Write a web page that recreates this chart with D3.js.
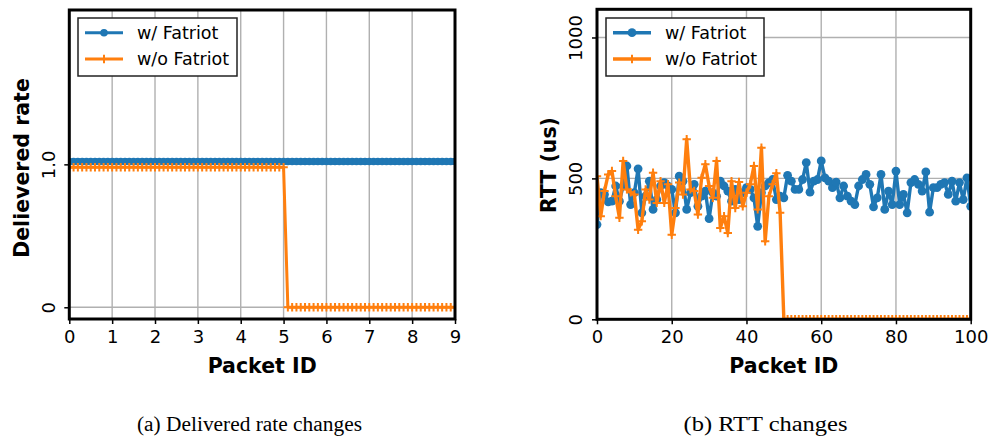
<!DOCTYPE html>
<html>
<head>
<meta charset="utf-8">
<script src="https://cdn.jsdelivr.net/npm/d3@7/dist/d3.min.js"></script>
<style>
  html, body { margin: 0; padding: 0; background: #fff; }
  svg { display: block; font-family: "DejaVu Sans", sans-serif; }
</style>
</head>
<body>
<svg id="chart" width="989" height="439"></svg>
<script>
// ---------- DATA ----------
const seriesNames = ["w/ Fatriot", "w/o Fatriot"];

// (a) Delivered rate: packet IDs 0.0 .. 9.0 step 0.1
const rateIds = d3.range(91).map(i => +(i / 10).toFixed(1));
const rateWith = [
  1.02,1.02,1.02,1.02,1.02,1.02,1.02,1.02,1.02,1.02,
  1.02,1.02,1.02,1.02,1.02,1.02,1.02,1.02,1.02,1.02,
  1.02,1.02,1.02,1.02,1.02,1.02,1.02,1.02,1.02,1.02,
  1.02,1.02,1.02,1.02,1.02,1.02,1.02,1.02,1.02,1.02,
  1.02,1.02,1.02,1.02,1.02,1.02,1.02,1.02,1.02,1.02,
  1.02,1.02,1.02,1.02,1.02,1.02,1.02,1.02,1.02,1.02,
  1.02,1.02,1.02,1.02,1.02,1.02,1.02,1.02,1.02,1.02,
  1.02,1.02,1.02,1.02,1.02,1.02,1.02,1.02,1.02,1.02,
  1.02,1.02,1.02,1.02,1.02,1.02,1.02,1.02,1.02,1.02,
  1.02
];
const rateWithout = [
  0.98,0.98,0.98,0.98,0.98,0.98,0.98,0.98,0.98,0.98,
  0.98,0.98,0.98,0.98,0.98,0.98,0.98,0.98,0.98,0.98,
  0.98,0.98,0.98,0.98,0.98,0.98,0.98,0.98,0.98,0.98,
  0.98,0.98,0.98,0.98,0.98,0.98,0.98,0.98,0.98,0.98,
  0.98,0.98,0.98,0.98,0.98,0.98,0.98,0.98,0.98,0.98,
  0.98,0,0,0,0,0,0,0,0,0,
  0,0,0,0,0,0,0,0,0,0,
  0,0,0,0,0,0,0,0,0,0,
  0,0,0,0,0,0,0,0,0,0,
  0
];
const rateXTicks = [0,1,2,3,4,5,6,7,8,9];
const rateYTicks = [0, 1.0];
const rateYTickLabels = ["0", "1.0"];

// (b) RTT: packet IDs 0 .. 100
const rttIds = d3.range(101);
const rttWith = [
  336,449,443,417,419,473,419,473,544,407,
  449,534,378,437,490,390,425,473,485,473,
  461,378,508,490,390,449,479,401,437,455,
  357,449,437,490,473,455,419,461,425,449,
  467,461,431,330,449,473,485,496,425,437,
  431,511,490,461,461,496,556,451,490,496,
  562,502,490,467,487,431,473,437,419,407,
  473,496,514,479,399,431,514,390,455,407,
  526,407,443,378,485,496,479,455,523,380,
  467,467,479,485,443,490,419,485,425,502,
  401
];
const rttWithout = [
  508,366,455,514,526,437,360,562,461,451,
  443,318,348,461,425,520,413,490,413,479,
  300,395,485,443,639,461,455,372,502,550,
  473,431,562,324,366,306,490,395,487,401,
  449,479,544,390,609,277,437,479,518,378,
  0,0,0,0,0,0,0,0,0,0,
  0,0,0,0,0,0,0,0,0,0,
  0,0,0,0,0,0,0,0,0,0,
  0,0,0,0,0,0,0,0,0,0,
  0,0,0,0,0,0,0,0,0,0,
  0
];
const rttXTicks = [0,20,40,60,80,100];
const rttYTicks = [0, 500, 1000];
const rttYTickLabels = ["0", "500", "1000"];

const captions = ["(a) Delivered rate changes", "(b) RTT changes"];

// ---------- DRAW ----------
const BLUE = "#1f77b4", ORANGE = "#ff7f0e";
const svg = d3.select("#chart");
svg.append("rect").attr("width", 989).attr("height", 439).attr("fill", "#fff");

function panel(cfg) {
  const g = svg.append("g");
  const x = d3.scaleLinear().domain(cfg.xDomain).range(cfg.xRange);
  const y = d3.scaleLinear().domain(cfg.yDomain).range(cfg.yRange);
  const [x0, x1] = cfg.xRange, [y0, y1] = cfg.yRange;

  const clipId = "clip" + cfg.id;
  svg.append("clipPath").attr("id", clipId)
    .append("rect").attr("x", x0).attr("y", y1).attr("width", x1 - x0).attr("height", y0 - y1);

  // grid
  const grid = g.append("g").attr("stroke", "#b0b0b0").attr("stroke-width", 1.4);
  grid.selectAll("line.vx").data(cfg.xTicks).join("line")
    .attr("x1", d => x(d)).attr("x2", d => x(d)).attr("y1", y0).attr("y2", y1);
  grid.selectAll("line.hy").data(cfg.yTicks).join("line")
    .attr("y1", d => y(d)).attr("y2", d => y(d)).attr("x1", x0).attr("x2", x1);

  const plot = g.append("g").attr("clip-path", `url(#${clipId})`);
  const line = d3.line().x(d => x(d[0])).y(d => y(d[1]));

  const bData = cfg.ids.map((id, i) => [id, cfg.withVals[i]]);
  plot.append("path").datum(bData).attr("d", line)
    .attr("fill", "none").attr("stroke", BLUE).attr("stroke-width", cfg.lw).attr("stroke-linejoin", "round");
  plot.selectAll("circle.b").data(bData).join("circle")
    .attr("cx", d => x(d[0])).attr("cy", d => y(d[1])).attr("r", cfg.r).attr("fill", BLUE);

  const oData = cfg.ids.map((id, i) => [id, cfg.withoutVals[i]]);
  plot.append("path").datum(oData).attr("d", line)
    .attr("fill", "none").attr("stroke", ORANGE).attr("stroke-width", cfg.lw).attr("stroke-linejoin", "round");
  const pl = 4.2;
  plot.selectAll("path.o").data(oData).join("path")
    .attr("d", d => {
      const cx = x(d[0]), cy = y(d[1]);
      return `M${cx - pl},${cy}H${cx + pl}M${cx},${cy - pl}V${cy + pl}`;
    })
    .attr("stroke", ORANGE).attr("stroke-width", 2).attr("fill", "none");

  // axes
  const xAxis = d3.axisBottom(x).tickValues(cfg.xTicks).tickSize(5).tickPadding(6);
  const gx = g.append("g").attr("transform", `translate(0,${y0})`).call(xAxis);
  gx.select(".domain").remove();
  gx.selectAll(".tick line").attr("stroke", "#000").attr("stroke-width", 1.5);
  gx.selectAll(".tick text").attr("font-size", 18).attr("fill", "#000")
    .attr("font-family", "DejaVu Sans").attr("dy", "0.71em");

  const yAxis = d3.axisLeft(y).tickValues(cfg.yTicks).tickSize(5).tickFormat((d, i) => cfg.yTickLabels[i]);
  const gy = g.append("g").attr("transform", `translate(${x0},0)`).call(yAxis);
  gy.select(".domain").remove();
  gy.selectAll(".tick line").attr("stroke", "#000").attr("stroke-width", 1.5);
  gy.selectAll(".tick text")
    .attr("font-size", 18).attr("fill", "#000").attr("font-family", "DejaVu Sans")
    .attr("x", null).attr("dy", null)
    .attr("text-anchor", "middle").attr("dominant-baseline", "central")
    .attr("transform", `translate(${cfg.yTickX - x0},0) rotate(-90)`);

  // frame
  g.append("rect").attr("x", x0).attr("y", y1).attr("width", x1 - x0).attr("height", y0 - y1)
    .attr("fill", "none").attr("stroke", "#000").attr("stroke-width", 3);

  // axis labels
  g.append("text").attr("x", (x0 + x1) / 2).attr("y", 373)
    .attr("text-anchor", "middle").attr("font-size", 20.5).attr("font-weight", "bold")
    .text("Packet ID");
  g.append("text")
    .attr("transform", `translate(${cfg.yLabelX},${cfg.yLabelY}) rotate(-90)`)
    .attr("text-anchor", "middle").attr("dominant-baseline", "central")
    .attr("font-size", 20.5).attr("font-weight", "bold")
    .text(cfg.yLabel);

  // legend
  const L = cfg.legend;
  g.append("rect").attr("x", L.x).attr("y", L.y).attr("width", L.w).attr("height", L.h)
    .attr("fill", "#fff").attr("stroke", "#222").attr("stroke-width", 1.5);
  const rows = [{ c: BLUE, m: "circle", name: seriesNames[0], yy: L.y + 14.7 },
                { c: ORANGE, m: "plus", name: seriesNames[1], yy: L.y + 41 }];
  rows.forEach(rw => {
    g.append("line").attr("x1", L.x + 7).attr("x2", L.x + 45).attr("y1", rw.yy).attr("y2", rw.yy)
      .attr("stroke", rw.c).attr("stroke-width", cfg.lw);
    const mx = L.x + 26;
    if (rw.m === "circle") {
      g.append("circle").attr("cx", mx).attr("cy", rw.yy).attr("r", cfg.r).attr("fill", rw.c);
    } else {
      g.append("path").attr("d", `M${mx - pl},${rw.yy}H${mx + pl}M${mx},${rw.yy - pl}V${rw.yy + pl}`)
        .attr("stroke", rw.c).attr("stroke-width", 2);
    }
    g.append("text").attr("x", L.x + 59).attr("y", rw.yy).attr("dominant-baseline", "central")
      .attr("font-size", 17.5).attr("fill", "#000").text(rw.name);
  });

  // caption
  g.append("text").attr("x", cfg.capX).attr("y", 431)
    .attr("text-anchor", "middle")
    .style("font-family", "'Liberation Serif', serif")
    .attr("font-size", 20.5).attr("fill", "#000")
    .attr("textLength", cfg.capW).attr("lengthAdjust", "spacingAndGlyphs")
    .text(cfg.caption);
}

panel({
  id: "a",
  xDomain: [0, 9], xRange: [69.3, 455],
  yDomain: [-0.082, 2.08], yRange: [319, 10],
  ids: rateIds, withVals: rateWith, withoutVals: rateWithout,
  xTicks: rateXTicks, yTicks: rateYTicks, yTickLabels: rateYTickLabels,
  yTickX: 48.5, r: 3.8, lw: 3,
  yLabel: "Delievered rate", yLabelX: 22, yLabelY: 168,
  legend: { x: 78, y: 18, w: 159, h: 58 },
  caption: captions[0], capX: 249.5, capW: 225
});

panel({
  id: "b",
  xDomain: [0, 100], xRange: [597, 970.7],
  yDomain: [0, 1100], yRange: [319.3, 9.3],
  ids: rttIds, withVals: rttWith, withoutVals: rttWithout,
  xTicks: rttXTicks, yTicks: rttYTicks, yTickLabels: rttYTickLabels,
  yTickX: 575, r: 4.4, lw: 3.4,
  yLabel: "RTT (us)", yLabelX: 549, yLabelY: 165,
  legend: { x: 606, y: 18, w: 158, h: 58 },
  caption: captions[1], capX: 765.5, capW: 164
});
</script>
</body>
</html>
